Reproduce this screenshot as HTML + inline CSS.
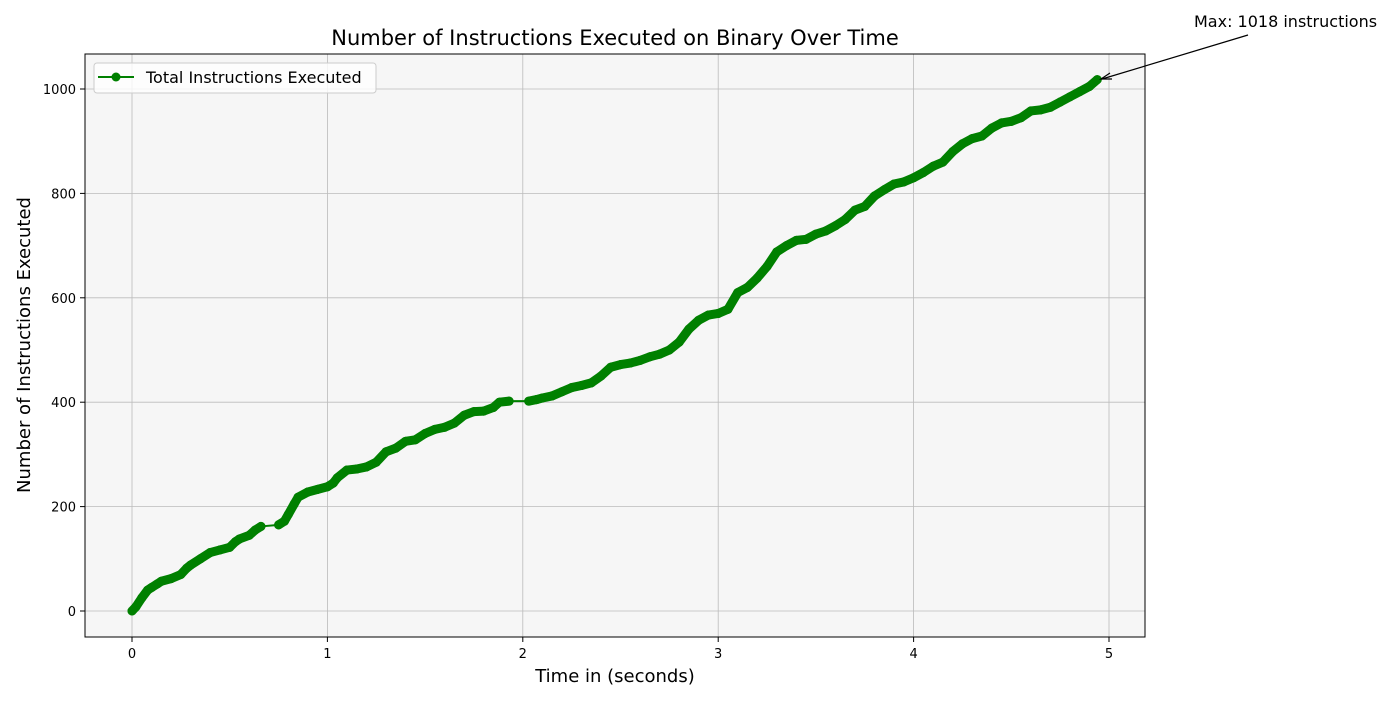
<!DOCTYPE html>
<html><head><meta charset="utf-8"><style>
body{margin:0;background:#fff;}
svg text{font-family:"DejaVu Sans","Liberation Sans",sans-serif;}
</style></head><body>
<svg id="chart" width="1400" height="700">
<rect x="85" y="54" width="1060" height="583" fill="#f6f6f6"/>
<g id="grid"></g>
<g id="series"></g>
<rect x="85" y="54" width="1060" height="583" fill="none" stroke="#000" stroke-width="1"/>
<g id="ticks"></g>
<text x="615" y="45" font-size="21" text-anchor="middle">Number of Instructions Executed on Binary Over Time</text>
<text x="615" y="682" font-size="18" text-anchor="middle">Time in (seconds)</text>
<text x="30" y="345" font-size="18" text-anchor="middle" transform="rotate(-90 30 345)">Number of Instructions Executed</text>
<g>
<rect x="94" y="63" width="282" height="30" rx="3" fill="#fff" fill-opacity="0.8" stroke="#ccc"/>
<line x1="98" y1="77" x2="134" y2="77" stroke="#008000" stroke-width="2"/>
<circle cx="116" cy="77" r="4.5" fill="#008000"/>
<text x="146" y="83" font-size="16">Total Instructions Executed</text>
</g>
<g>
<text x="1194" y="27" font-size="16">Max: 1018 instructions</text>
<line x1="1248" y1="35" x2="1102" y2="79" stroke="#000" stroke-width="1.2"/>
<path d="M1110,73 L1101,79 L1112,79" fill="none" stroke="#000" stroke-width="1.2"/>
</g>
</svg>
<script>
const times=[0,0.02,0.05,0.08,0.1,0.13,0.15,0.2,0.25,0.28,0.3,0.35,0.4,0.45,0.5,0.53,0.55,0.6,0.63,0.66,0.75,0.78,0.8,0.83,0.85,0.9,0.95,1.0,1.03,1.05,1.1,1.15,1.2,1.25,1.3,1.35,1.4,1.45,1.5,1.55,1.6,1.65,1.7,1.75,1.8,1.85,1.88,1.93,2.03,2.07,2.1,2.15,2.2,2.25,2.3,2.35,2.4,2.45,2.5,2.55,2.6,2.65,2.7,2.75,2.8,2.85,2.9,2.95,3.0,3.05,3.1,3.15,3.2,3.25,3.3,3.35,3.4,3.45,3.5,3.55,3.6,3.65,3.7,3.75,3.8,3.85,3.9,3.95,4.0,4.05,4.1,4.15,4.2,4.25,4.3,4.35,4.4,4.45,4.5,4.55,4.6,4.65,4.7,4.75,4.8,4.85,4.9,4.94];
const counts=[0,8,25,40,45,52,57,62,70,82,88,100,112,117,122,133,138,145,155,162,165,172,185,205,218,228,233,238,245,255,270,272,276,285,305,312,325,328,340,348,352,360,375,382,383,390,400,402,402,405,408,412,420,428,432,437,450,467,472,475,480,487,492,500,515,540,557,567,570,578,610,620,638,660,688,700,710,712,722,728,738,750,768,775,795,807,818,822,830,840,852,860,880,895,905,910,925,935,938,945,958,960,965,975,985,995,1005,1018];
const xTicks=[0,1,2,3,4,5];
const yTicks=[0,200,400,600,800,1000];
const NS="http://www.w3.org/2000/svg";
const X=t=>132+195.4*t, Y=v=>611-0.522*v;
const grid=document.getElementById('grid'),ticks=document.getElementById('ticks'),series=document.getElementById('series');
function mk(tag,a,p){const e=document.createElementNS(NS,tag);for(const k in a)e.setAttribute(k,a[k]);p.appendChild(e);return e;}
xTicks.forEach(t=>{
 const g=mk('line',{x1:X(t),x2:X(t),y1:54,y2:637,stroke:'#bbb','stroke-width':0.8},grid);
 
 
 mk('line',{x1:X(t),x2:X(t),y1:637,y2:642,stroke:'#000'},ticks);
 const l=mk('text',{x:X(t),y:658,'font-size':13,'text-anchor':'middle'},ticks);l.textContent=t;
 
 
});
yTicks.forEach(v=>{
 const g=mk('line',{x1:85,x2:1145,y1:Y(v),y2:Y(v),stroke:'#bbb','stroke-width':0.8},grid);
 
 
 mk('line',{x1:80,x2:85,y1:Y(v),y2:Y(v),stroke:'#000'},ticks);
 const l=mk('text',{x:76,y:Y(v)+5,'font-size':13,'text-anchor':'end'},ticks);l.textContent=v;
 
 
});
const pl=mk('polyline',{points:times.map((t,i)=>X(t)+','+Y(counts[i])).join(' '),fill:'none',stroke:'#008000','stroke-width':2},series);


for(let i=1;i<times.length;i++){
 if(times[i]-times[i-1]>0.06)continue;
 const s=mk('line',{x1:X(times[i-1]),y1:Y(counts[i-1]),x2:X(times[i]),y2:Y(counts[i]),stroke:'#008000','stroke-width':9,'stroke-linecap':'round'},series);
 
 
}
times.forEach((t,i)=>{
 const c=mk('circle',{cx:X(t),cy:Y(counts[i]),r:4.5,fill:'#008000'},series);
 
 
});
</script>
</body></html>
